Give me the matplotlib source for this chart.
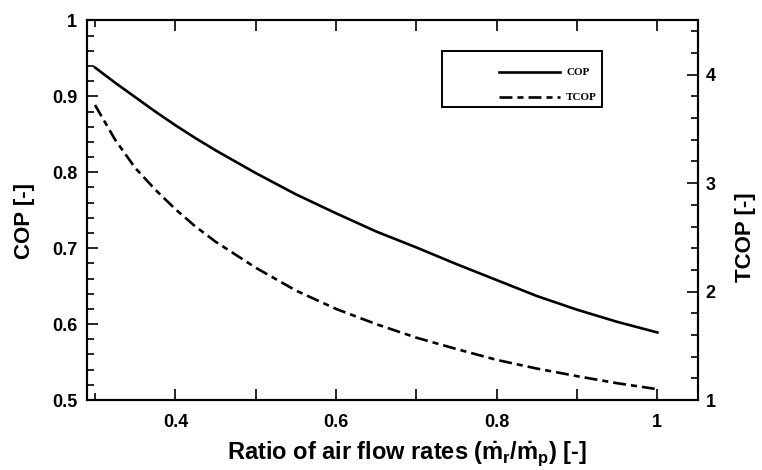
"""
COP and TCOP versus ratio of air flow rates (twin y axes).
"""

import matplotlib
matplotlib.use("Agg")
import matplotlib.pyplot as plt
from matplotlib.lines import Line2D
from matplotlib.patches import Rectangle
from matplotlib.ticker import MultipleLocator, FixedLocator, FixedFormatter

# data
ratio = [0.30, 0.325, 0.35, 0.375, 0.40, 0.425, 0.45, 0.50, 0.55, 0.60, 0.65,
         0.70, 0.75, 0.80, 0.85, 0.90, 0.95, 1.00]
cop = [0.938, 0.918, 0.899, 0.880, 0.862, 0.845, 0.829, 0.799, 0.771, 0.746, 0.722,
       0.701, 0.679, 0.658, 0.637, 0.619, 0.603, 0.589]
tcop = [3.72, 3.40, 3.14, 2.94, 2.76, 2.60, 2.46, 2.22, 2.01, 1.84, 1.70,
        1.575, 1.47, 1.37, 1.29, 1.22, 1.155, 1.10]

x_major = [0.4, 0.5, 0.6, 0.7, 0.8, 0.9, 1.0]
x_labels = ["0.4", "", "0.6", "", "0.8", "", "1"]
series_names = ["COP", "TCOP"]

DASH = (0, (4.9, 1.9, 2.3, 1.9))

plt.rcParams["font.family"] = ["Liberation Sans", "DejaVu Sans"]
plt.rcParams["font.weight"] = "bold"
plt.rcParams["mathtext.fontset"] = "custom"
plt.rcParams["mathtext.rm"] = "Liberation Sans:bold"
plt.rcParams["mathtext.it"] = "Liberation Sans:bold"
plt.rcParams["mathtext.bf"] = "Liberation Sans:bold"


def main() -> None:
    fig = plt.figure(figsize=(7.62, 4.70), dpi=100)
    ax = fig.add_axes([0.1142, 0.1489, 0.8012, 0.8075])
    ax2 = ax.twinx()

    ax.plot(ratio, cop, color="black", lw=1.9)
    ax2.plot(ratio, tcop, color="black", lw=1.9, linestyle=DASH)

    ax.set_xlim(0.29, 1.05)
    ax.set_ylim(0.5, 1.0)
    ax2.set_ylim(1.0, 4.5)

    ax.xaxis.set_major_locator(FixedLocator(x_major))
    ax.xaxis.set_major_formatter(FixedFormatter(x_labels))
    ax.xaxis.set_minor_locator(FixedLocator([0.3]))
    ax.yaxis.set_major_locator(MultipleLocator(0.1))
    ax.yaxis.set_minor_locator(MultipleLocator(0.02))
    ax.yaxis.set_major_formatter(plt.FuncFormatter(lambda v, p: f"{v:g}"))
    ax2.yaxis.set_major_locator(MultipleLocator(1))
    ax2.yaxis.set_minor_locator(MultipleLocator(0.2))

    ax.tick_params(axis="x", which="both", direction="in", top=True, bottom=True,
                   labelsize=13, pad=10, width=1.2)
    ax.tick_params(axis="x", which="major", length=8)
    ax.tick_params(axis="x", which="minor", length=5)
    ax.tick_params(axis="y", which="both", direction="in", left=True, right=False,
                   labelsize=13, pad=7, width=1.2)
    ax.tick_params(axis="y", which="major", length=8)
    ax.tick_params(axis="y", which="minor", length=5)
    ax2.tick_params(axis="y", which="both", direction="in", right=True,
                    labelsize=13, pad=6, width=1.2)
    ax2.tick_params(axis="y", which="major", length=8)
    ax2.tick_params(axis="y", which="minor", length=5)

    for a in (ax, ax2):
        for sp in a.spines.values():
            sp.set_linewidth(1.5)

    ax.set_ylabel("COP [-]", fontsize=16, fontweight="bold")
    ax.yaxis.set_label_coords(-0.085, 0.472)
    ax2.set_ylabel("TCOP [-]", fontsize=16, fontweight="bold")
    ax2.yaxis.set_label_coords(1.061, 0.43)
    ax.set_xlabel(r"Ratio of air flow rates ($\dot{m}_r/\dot{m}_p$) [-]",
                  fontsize=17, fontweight="bold")
    ax.xaxis.set_label_coords(0.524, -0.105)

    # hand-drawn legend box, as in the reference (lines sit at the right side)
    tr = ax2.transAxes
    ax2.add_patch(Rectangle((0.5815, 0.772), 0.262, 0.148, transform=tr,
                            fill=False, edgecolor="black", lw=1.4, zorder=5))
    styles = ["-", DASH]
    for i, (name, ls) in enumerate(zip(series_names, styles)):
        yy = 0.864 - i * 0.066
        ax2.add_line(Line2D([0.675, 0.775], [yy, yy], transform=tr, color="black",
                            lw=1.9, linestyle=ls, zorder=6))
        ax2.text(0.785, yy, name, transform=tr, va="center", ha="left",
                 family="Liberation Serif", fontweight="bold", fontsize=8, zorder=6)

    fig.savefig("out.png", dpi=100)
    plt.close(fig)


if __name__ == "__main__":
    main()
